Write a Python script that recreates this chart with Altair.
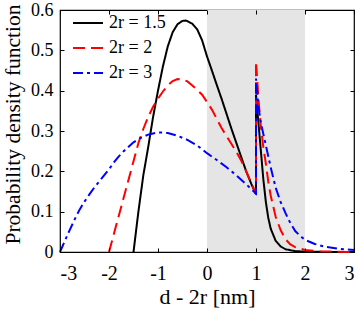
import altair as alt
import pandas as pd

# ---- data ----
series_names = ["2r = 1.5", "2r = 2", "2r = 3"]

x_15 = [-1.5, -1.4, -1.3, -1.2, -1.1, -1.0, -0.9, -0.8, -0.7, -0.6, -0.5, -0.43, -0.3, -0.2, -0.1,
        0.0, 0.1, 0.2, 0.3, 0.4, 0.5, 0.6, 0.7, 0.8, 0.9, 1.0,
        1.0, 1.05, 1.1, 1.15, 1.2, 1.25, 1.3, 1.4, 1.5, 1.6, 1.8, 2.0, 2.5, 3.0]
y_15 = [0.0, 0.1, 0.19, 0.26, 0.335, 0.40, 0.46, 0.51, 0.545, 0.565, 0.573, 0.574, 0.566, 0.552, 0.525,
        0.485, 0.45, 0.414, 0.379, 0.342, 0.305, 0.27, 0.235, 0.2, 0.17, 0.143,
        0.39, 0.32, 0.25, 0.18, 0.125, 0.085, 0.058, 0.028, 0.014, 0.007, 0.002, 0.001, 0.0, 0.0]

x_2 = [-2.0, -1.9, -1.8, -1.7, -1.6, -1.5, -1.4, -1.3, -1.2, -1.1, -1.0, -0.9, -0.8, -0.7, -0.6,
       -0.5, -0.4, -0.3, -0.2, -0.1, 0.0, 0.1, 0.2, 0.3, 0.4, 0.5, 0.6, 0.7, 0.8, 0.9, 1.0,
       1.0, 1.05, 1.1, 1.15, 1.2, 1.25, 1.3, 1.4, 1.5, 1.6, 1.7, 1.8, 2.0, 2.3, 2.6, 3.0]
y_2 = [0.0, 0.045, 0.09, 0.135, 0.18, 0.225, 0.27, 0.305, 0.335, 0.36, 0.38, 0.398, 0.413, 0.424, 0.429,
       0.428, 0.423, 0.413, 0.402, 0.39, 0.372, 0.353, 0.33, 0.307, 0.287, 0.268, 0.248, 0.226, 0.2, 0.172, 0.145,
       0.473, 0.38, 0.31, 0.26, 0.22, 0.175, 0.14, 0.088, 0.055, 0.032, 0.019, 0.012, 0.005, 0.002, 0.001, 0.0]

x_3 = [-3.0, -2.9, -2.8, -2.7, -2.6, -2.5, -2.4, -2.3, -2.2, -2.1, -2.0, -1.9, -1.8, -1.7, -1.6, -1.5,
       -1.4, -1.3, -1.2, -1.1, -1.0, -0.9, -0.8, -0.6, -0.4, -0.2, 0.0, 0.2, 0.4, 0.6, 0.8, 1.0,
       1.0, 1.05, 1.1, 1.2, 1.3, 1.4, 1.5, 1.6, 1.7, 1.8, 1.9, 2.0, 2.2, 2.4, 2.7, 3.0]
y_3 = [0.0, 0.028, 0.055, 0.081, 0.105, 0.125, 0.143, 0.16, 0.175, 0.19, 0.205, 0.222, 0.237, 0.25, 0.261, 0.272,
       0.28, 0.286, 0.291, 0.294, 0.296, 0.296, 0.295, 0.288, 0.278, 0.264, 0.245, 0.228, 0.21, 0.19, 0.168, 0.145,
       0.43, 0.36, 0.32, 0.265, 0.21, 0.16, 0.125, 0.097, 0.072, 0.052, 0.04, 0.03, 0.02, 0.013, 0.008, 0.005]

shade_start = [0.0]
shade_end = [2.0]

x_ticks = [-3, -2, -1, 0, 1, 2, 3]
y_ticks = [0, 0.1, 0.2, 0.3, 0.4, 0.5, 0.6]

colors = ["#000000", "#ff0000", "#0000ff"]
dashes = [[1, 0], [12, 6], [10, 4, 3, 4]]

# ---- build table ----
rows = []
for name, xs, ys in zip(series_names, [x_15, x_2, x_3], [y_15, y_2, y_3]):
    for i, (xv, yv) in enumerate(zip(xs, ys)):
        rows.append({"series": name, "x": xv, "y": yv, "i": i})
df = pd.DataFrame(rows)
shade = pd.DataFrame({"x0": shade_start, "x1": shade_end})

FONT = "Liberation Serif"
xscale = alt.Scale(domain=[-3, 3], nice=False, zero=False)
yscale = alt.Scale(domain=[0, 0.6], nice=False, zero=False)

tick_axis = dict(domain=False, grid=False, tickSize=4, offset=-4, tickColor="#000000",
                 tickWidth=1, zindex=1)

legend_kw = dict(title=None, orient="none", legendX=12, legendY=-3,
                 symbolType="stroke", symbolSize=900, symbolStrokeWidth=2,
                 labelFont=FONT, labelFontSize=18, labelColor="#000000",
                 labelOffset=5, rowPadding=-9, padding=0)

rect = alt.Chart(shade).mark_rect(color="#e5e5e5").encode(
    x=alt.X("x0:Q", scale=xscale,
            axis=alt.Axis(orient="bottom", values=x_ticks, labelExpr="'' + datum.value",
                          labelFont=FONT, labelFontSize=20, labelColor="#000000",
                          labelPadding=11, title="d - 2r [nm]", titleFont=FONT,
                          titleFontSize=22, titleFontWeight="normal", titleColor="#000000",
                          titlePadding=3, **tick_axis)),
    x2="x1:Q",
)

lines = alt.Chart(df).mark_line(strokeWidth=2).encode(
    x=alt.X("x:Q", scale=xscale,
            axis=alt.Axis(orient="top", values=x_ticks, labels=False, title=None, **tick_axis)),
    y=alt.Y("y:Q", scale=yscale,
            axis=alt.Axis(orient="left", values=y_ticks, format=".1~f",
                          labelFont=FONT, labelFontSize=18, labelColor="#000000",
                          labelPadding=7, title="Probability density function",
                          titleFont=FONT, titleFontSize=21.5, titleFontWeight="normal",
                          titleColor="#000000", titlePadding=6, titleY=114, **tick_axis)),
    color=alt.Color("series:N", scale=alt.Scale(domain=series_names, range=colors),
                    legend=alt.Legend(**legend_kw)),
    strokeDash=alt.StrokeDash("series:N", scale=alt.Scale(domain=series_names, range=dashes),
                              legend=alt.Legend(**legend_kw)),
    order=alt.Order("i:Q"),
)

right = alt.Chart(df).mark_point(opacity=0).encode(
    y=alt.Y("y:Q", scale=yscale,
            axis=alt.Axis(orient="right", values=y_ticks, labels=False, title=None, **tick_axis)),
)

chart = alt.layer(rect, lines, right).resolve_axis(
    x="independent", y="independent"
).properties(
    width=294, height=242,
    autosize=alt.AutoSizeParams(type="none"),
    padding={"left": 60, "top": 10, "right": 4, "bottom": 58},
    background="#ffffff",
).configure(
    font=FONT
).configure_view(stroke="#000000", strokeWidth=1.2)

chart.save("out.html", embed_options={"renderer": "svg", "actions": False})
